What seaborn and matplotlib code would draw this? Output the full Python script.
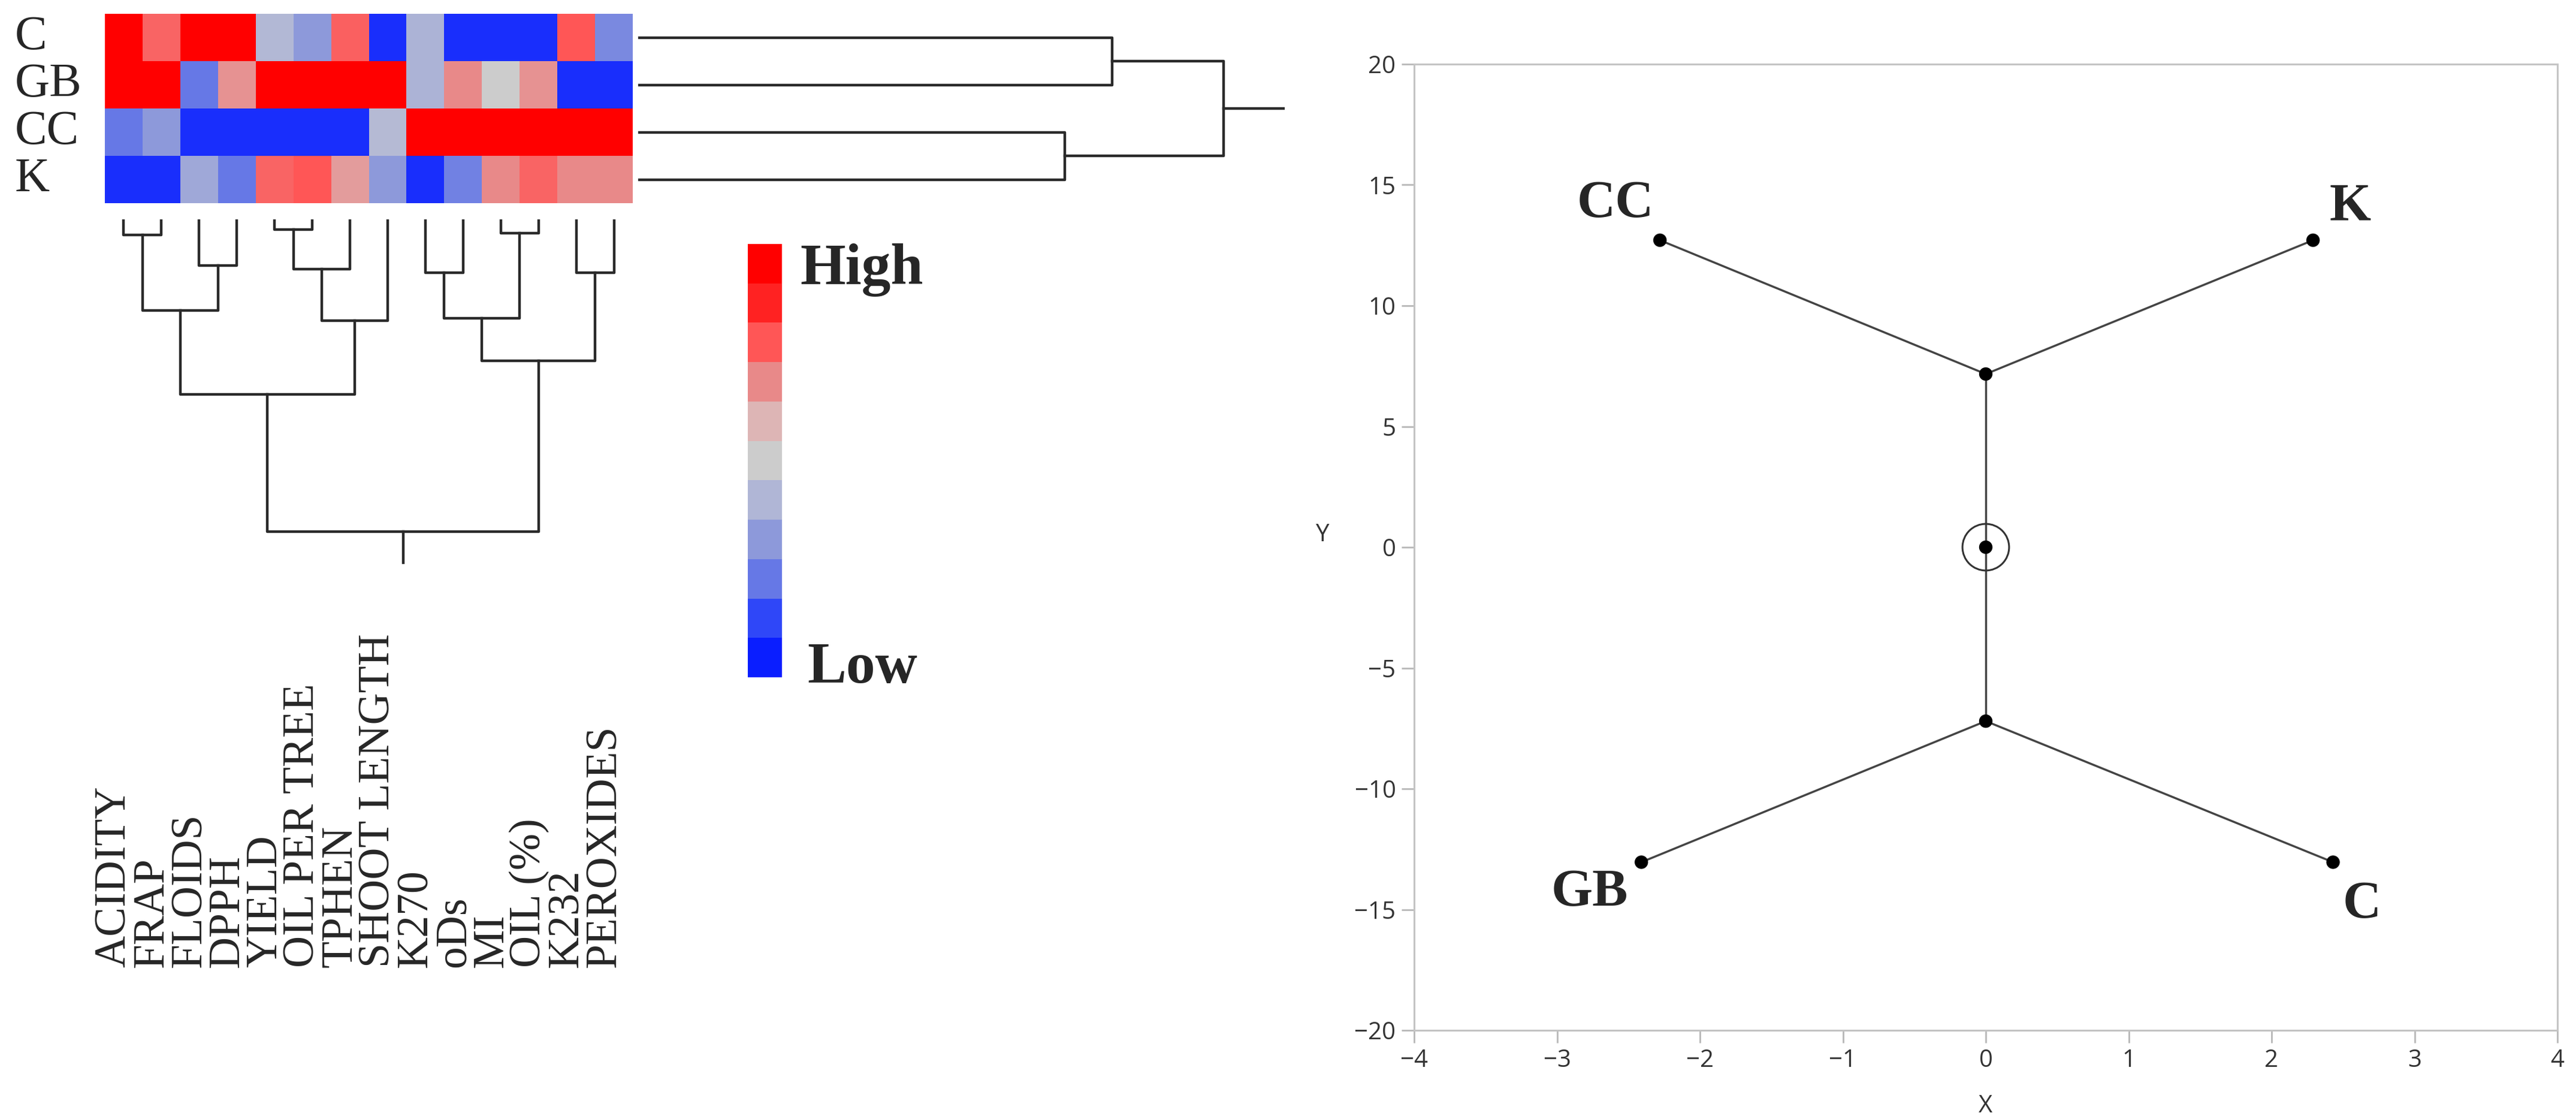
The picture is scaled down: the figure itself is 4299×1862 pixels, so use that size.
import numpy as np
import pandas as pd
import matplotlib
matplotlib.use("Agg")
import matplotlib.pyplot as plt
import matplotlib.transforms as mtransforms
from matplotlib.colors import LinearSegmentedColormap
import seaborn as sns

# ---- data ----
samples = ["C", "GB", "CC", "K"]
traits = ["ACIDITY", "FRAP", "FLOIDS", "DPPH", "YIELD", "OIL PER TREE", "TPHEN",
          "SHOOT LENGTH", "K270", "oDs", "MI", "OIL (%)", "K232", "PEROXIDES"]

# standardised level of each trait (-5 = low ... 5 = high)
row_c = [5, 2.7, 5, 5, -0.9, -2, 2.8, -4.6, -1.1, -4.6, -4.6, -4.6, 3, -2.5]
row_gb = [5, 5, -3, 1.8, 5, 5, 5, 5, -1.1, 2, 0, 1.8, -4.6, -4.6]
row_cc = [-3, -2, -4.6, -4.6, -4.6, -4.6, -4.6, -0.8, 5, 5, 5, 5, 5, 5]
row_k = [-4.6, -4.6, -1.5, -3, 2.7, 3, 1.6, -2, -4.6, -2.7, 2, 2.7, 2, 2]

# dendrograms: (left node, right node, height), nodes numbered after the leaves
col_merges = [(0, 1, 0.49), (2, 3, 1.47), (14, 15, 2.92), (4, 5, 0.33), (17, 6, 1.59),
              (18, 7, 3.24), (16, 19, 5.60), (8, 9, 1.71), (10, 11, 0.45),
              (21, 22, 3.16), (12, 13, 1.71), (23, 24, 4.54), (20, 25, 10.0)]
row_merges = [(0, 1, 8.09), (2, 3, 7.28), (4, 5, 10.0)]

# colour scale from the legend, high to low
scale_colors = ["#FF0000", "#FF2323", "#FF5656", "#E88A8A", "#DDB5B5", "#CCCCCC",
                "#B0B6D6", "#8E9ADA", "#6678E6", "#3048F8", "#0A1EFF"]
scale_levels = [5, 4, 3, 2, 1, 0, -1, -2, -3, -4, -5]

# unrooted tree (right panel)
node_names = ["CC", "K", "top", "centre", "bottom", "GB", "C"]
node_x = [-2.28, 2.29, 0.0, 0.0, 0.0, -2.41, 2.43]
node_y = [12.71, 12.71, 7.17, 0.0, -7.2, -13.04, -13.04]
edges = [(0, 2), (1, 2), (2, 3), (3, 4), (4, 5), (4, 6)]
tip_labels = ["CC", "K", "GB", "C"]
tip_label_x = [-2.59, 2.55, -2.77, 2.63]
tip_label_y = [14.2, 14.1, -14.3, -14.8]

# ---- styling ----
sns.set_style("white")
plt.rcParams["font.family"] = ["Open Sans", "DejaVu Sans"]
SERIF = ["Liberation Serif", "DejaVu Serif"]
W, H = 4299, 1862
fig = plt.figure(figsize=(W / 100, H / 100), dpi=100)


def fig_rect(x0, y0, x1, y1):
    return [x0 / W, 1 - y1 / H, (x1 - x0) / W, (y1 - y0) / H]


cmap = LinearSegmentedColormap.from_list(
    "hilo", list(zip(np.linspace(0, 1, len(scale_colors)), scale_colors[::-1])))

# heatmap
ax_heat = fig.add_axes(fig_rect(175, 23, 1056, 339))
heat_df = pd.DataFrame([row_c, row_gb, row_cc, row_k], index=samples, columns=traits)
sns.heatmap(heat_df, cmap=cmap, vmin=-5, vmax=5, cbar=False, ax=ax_heat,
            xticklabels=False, yticklabels=False)
ax_heat.set_xlabel("")
ax_heat.set_ylabel("")

row_tr = mtransforms.blended_transform_factory(fig.transFigure, ax_heat.transData)
for i, name in enumerate(samples):
    fig.text(25 / W, i + 0.5, name, transform=row_tr, ha="left", va="center",
             fontsize=58, family=SERIF)

col_tr = mtransforms.offset_copy(
    mtransforms.blended_transform_factory(ax_heat.transData, fig.transFigure),
    fig=fig, x=-15, y=0, units="dots")
for j, name in enumerate(traits):
    fig.text(j + 0.5, 1 - 1614 / H, name, transform=col_tr, rotation=90,
             ha="center", va="bottom", fontsize=53, family=SERIF)


def draw_dendro(ax, merges, n_leaves, vertical, stub=1.04):
    pos = {i: i + 0.5 for i in range(n_leaves)}
    hgt = {i: 0.0 for i in range(n_leaves)}
    kw = dict(color="#2a2a2a", lw=3.2, solid_capstyle="projecting")
    for k, (a, b, h) in enumerate(merges):
        p = [pos[a], pos[a], pos[b], pos[b]]
        q = [hgt[a], h, h, hgt[b]]
        if vertical:
            ax.plot(p, q, **kw)
        else:
            ax.plot(q, p, **kw)
        pos[n_leaves + k] = (pos[a] + pos[b]) / 2
        hgt[n_leaves + k] = h
    root = n_leaves + len(merges) - 1
    if vertical:
        ax.plot([pos[root]] * 2, [hgt[root], hgt[root] + stub], **kw)
    else:
        ax.plot([hgt[root], hgt[root] + stub], [pos[root]] * 2, **kw)
    ax.set_axis_off()


ax_row = fig.add_axes(fig_rect(1065, 23, 2144, 339))
draw_dendro(ax_row, row_merges, len(samples), vertical=False)
ax_row.set_xlim(0, 11.04)
ax_row.set_ylim(len(samples), 0)

ax_col = fig.add_axes(fig_rect(175, 366, 1056, 941))
draw_dendro(ax_col, col_merges, len(traits), vertical=True)
ax_col.set_xlim(0, len(traits))
ax_col.set_ylim(11.04, 0)

# colour legend
ax_cb = fig.add_axes(fig_rect(1248, 407, 1305, 1130))
sns.heatmap(pd.DataFrame({"v": scale_levels}), cmap=cmap, vmin=-5, vmax=5,
            cbar=False, ax=ax_cb, xticklabels=False, yticklabels=False)
ax_cb.set_xlabel("")
ax_cb.set_ylabel("")
fig.text(1335 / W, 1 - 474 / H, "High", ha="left", va="baseline",
         fontsize=70, fontweight="bold", family=SERIF)
fig.text(1347 / W, 1 - 1139 / H, "Low", ha="left", va="baseline",
         fontsize=70, fontweight="bold", family=SERIF)

# tree panel
ax_tree = fig.add_axes(fig_rect(2360, 107, 4268, 1719))
seg_rows = []
for s, (a, b) in enumerate(edges):
    seg_rows.append({"seg": s, "x": node_x[a], "y": node_y[a]})
    seg_rows.append({"seg": s, "x": node_x[b], "y": node_y[b]})
seg_df = pd.DataFrame(seg_rows)
sns.lineplot(data=seg_df, x="x", y="y", units="seg", estimator=None, sort=False,
             color="#444444", lw=2.5, ax=ax_tree)
sns.scatterplot(x=node_x, y=node_y, color="black", s=260, edgecolor="none",
                ax=ax_tree, zorder=3)
ci = node_names.index("centre")
ax_tree.scatter([node_x[ci]], [node_y[ci]], s=56 ** 2, facecolors="none",
                edgecolors="#333333", linewidths=2.2, zorder=3)
for name, tx, ty in zip(tip_labels, tip_label_x, tip_label_y):
    ax_tree.text(tx, ty, name, ha="center", va="center", fontsize=64,
                 fontweight="bold", family=SERIF)

ax_tree.set_xlim(-4, 4)
ax_tree.set_ylim(-20, 20)
ax_tree.set_xticks(range(-4, 5))
ax_tree.set_yticks(range(-20, 21, 5))
for sp in ax_tree.spines.values():
    sp.set_color("#c4c4c4")
    sp.set_linewidth(2.2)
ax_tree.tick_params(axis="both", length=15, width=2, color="#b8b8b8",
                    labelsize=29, labelcolor="#333333", pad=7, direction="out",
                    bottom=True, left=True)
ax_tree.set_xlabel("X", fontsize=29, color="#333333")
ax_tree.set_ylabel("Y", fontsize=29, color="#333333", rotation=0)
ax_tree.xaxis.set_label_coords(0.5, -0.066)
ax_tree.yaxis.set_label_coords(-0.080, 0.5)

fig.savefig("out.png", dpi=100, facecolor="white")
